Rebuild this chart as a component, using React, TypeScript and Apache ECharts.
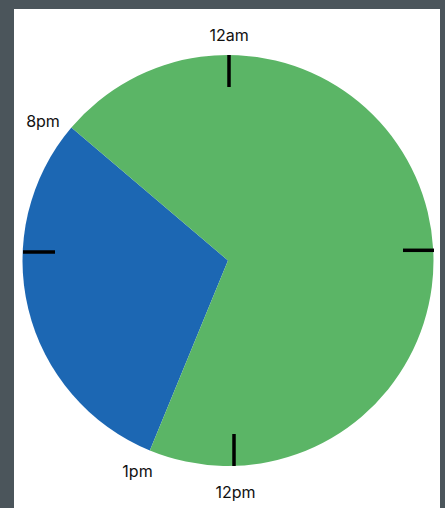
import React, { useEffect, useRef } from "react";
import * as echarts from "echarts";

// Data (hours of a 24h clock)
const sliceNames = ["1pm – 8pm", "8pm – 1pm"];
const sliceHours = [7.2, 16.8];
const clockLabels = ["12am", "8pm", "1pm", "12pm"];

const COLORS = ["#1c67b3", "#5bb566"];

export default function App() {
  const ref = useRef<HTMLDivElement>(null);

  useEffect(() => {
    document.body.style.margin = "0";
    const chart = echarts.init(ref.current!, null, { renderer: "svg" });

    const textStyle = {
      fill: "#111111",
      fontSize: 16,
      fontFamily: "Inter, 'Noto Sans', sans-serif",
      align: "center",
      verticalAlign: "middle",
    };
    const labelPos: [number, number][] = [
      [229, 35],
      [43, 121],
      [137.5, 471],
      [235.5, 492],
    ];
    const tickLines = [
      [229, 55, 229, 87],
      [234, 434, 234, 466],
      [23, 252, 55, 252],
      [403, 250.3, 434, 250.3],
    ];

    chart.setOption({
      animation: false,
      backgroundColor: "#4b555b",
      graphic: [
        {
          type: "rect",
          z: -10,
          silent: true,
          shape: { x: 14, y: 9, width: 426, height: 510 },
          style: { fill: "#ffffff" },
        },
        ...tickLines.map((l) => ({
          type: "line",
          z: 100,
          silent: true,
          shape: { x1: l[0], y1: l[1], x2: l[2], y2: l[3] },
          style: { stroke: "#000000", lineWidth: 3.5 },
        })),
        ...clockLabels.map((t, i) => ({
          type: "text",
          z: 100,
          silent: true,
          x: labelPos[i][0],
          y: labelPos[i][1],
          style: { ...textStyle, text: t },
        })),
      ],
      series: [
        {
          type: "pie",
          center: [228, 260.5],
          radius: 205.5,
          startAngle: 247.65,
          clockwise: true,
          silent: true,
          label: { show: false },
          labelLine: { show: false },
          itemStyle: { borderWidth: 0 },
          data: sliceNames.map((n, i) => ({
            name: n,
            value: sliceHours[i],
            itemStyle: { color: COLORS[i] },
          })),
        },
      ],
    });

    return () => chart.dispose();
  }, []);

  return <div ref={ref} style={{ width: 445, height: 508 }} />;
}
